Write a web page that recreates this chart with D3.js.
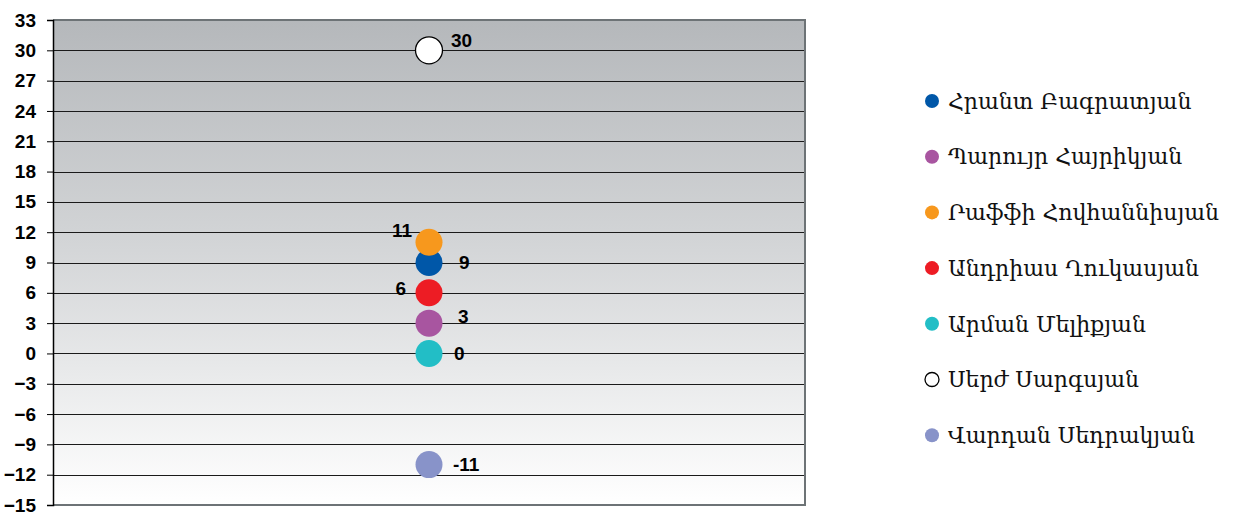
<!DOCTYPE html>
<html>
<head>
<meta charset="utf-8">
<script src="https://cdn.jsdelivr.net/npm/d3@7"></script>
<style>
  body { margin: 0; background: #fff; }
  svg { display: block; }
</style>
</head>
<body>
<div id="chart"></div>
<script>
// candidates, in legend order
const names = [
  "Հրանտ Բագրատյան",
  "Պարույր Հայրիկյան",
  "Րաֆֆի Հովհաննիսյան",
  "Անդրիաս Ղուկասյան",
  "Արման Մելիքյան",
  "Սերժ Սարգսյան",
  "Վարդան Սեդրակյան"
];
const values = [9, 3, 11, 6, 0, 30, -11];
const colors = ["#0057a8", "#a855a0", "#f7981d", "#ed1c24", "#22bec6", "#ffffff", "#8893c9"];
const yTicks = d3.range(-15, 34, 3);

const width = 1234, height = 512;
const plot = { left: 53, right: 805, top: 20, bottom: 505 };
// label placement next to each dot (dx from dot centre, dy of text middle)
const labelPos = [[30, 0], [29, -7], [-17, -12], [-23, -4], [25, 0], [22, -10], [24, 0]];

const svg = d3.select("#chart").append("svg")
  .attr("width", width)
  .attr("height", height);

const y = d3.scaleLinear().domain([-15, 33]).range([plot.bottom, plot.top]);
const x = d3.scalePoint().domain(["all"]).range([plot.left, plot.right]).padding(0.5);

const defs = svg.append("defs");
const grad = defs.append("linearGradient")
  .attr("id", "bg").attr("x1", 0).attr("y1", 0).attr("x2", 0).attr("y2", 1);
grad.append("stop").attr("offset", "0%").attr("stop-color", "#b5b8bb");
grad.append("stop").attr("offset", "45%").attr("stop-color", "#d2d4d6");
grad.append("stop").attr("offset", "100%").attr("stop-color", "#ffffff");

svg.append("rect")
  .attr("x", plot.left).attr("y", plot.top)
  .attr("width", plot.right - plot.left).attr("height", plot.bottom - plot.top)
  .attr("fill", "url(#bg)");

// gridlines
svg.append("g")
  .selectAll("line")
  .data(yTicks.filter(d => d > -15 && d < 33))
  .enter().append("line")
  .attr("x1", plot.left).attr("x2", plot.right)
  .attr("y1", d => Math.round(y(d)) + 0.5).attr("y2", d => Math.round(y(d)) + 0.5)
  .attr("stroke", "#1a1a1a").attr("stroke-width", 1.2);

// frame (top, right, bottom)
svg.append("path")
  .attr("d", `M${plot.left},${plot.top}H${plot.right}V${plot.bottom}H${plot.left}`)
  .attr("fill", "none").attr("stroke", "#6d7376").attr("stroke-width", 2);

// y axis
const yAxis = svg.append("g")
  .attr("transform", `translate(${plot.left},0)`)
  .call(d3.axisLeft(y).tickValues(yTicks).tickSize(6).tickPadding(11));
yAxis.select(".domain").attr("stroke", "#000").attr("stroke-width", 1.5);
yAxis.selectAll(".tick line").attr("stroke", "#000");
yAxis.selectAll("text")
  .attr("fill", "#000")
  .attr("font-family", "Liberation Sans, Arial, sans-serif")
  .attr("font-weight", "bold")
  .attr("font-size", 19);

// points
const pts = svg.append("g");
values.forEach((v, i) => {
  pts.append("circle")
    .attr("cx", x("all")).attr("cy", y(v)).attr("r", 13.5)
    .attr("fill", colors[i])
    .attr("stroke", colors[i] === "#ffffff" ? "#000" : "none")
    .attr("stroke-width", 1.3);
});

// value labels
values.forEach((v, i) => {
  const [dx, dy] = labelPos[i];
  pts.append("text")
    .attr("x", x("all") + dx)
    .attr("y", y(v) + dy)
    .attr("dy", "0.35em")
    .attr("text-anchor", dx > 0 ? "start" : "end")
    .attr("font-family", "Liberation Sans, Arial, sans-serif")
    .attr("font-weight", "bold")
    .attr("font-size", 19)
    .attr("fill", "#000")
    .text(v);
});

// legend
const legend = svg.append("g").attr("transform", "translate(932,101)");
const item = legend.selectAll("g")
  .data(names)
  .enter().append("g")
  .attr("transform", (d, i) => `translate(0,${i * 55.7})`);
item.append("circle")
  .attr("r", 7)
  .attr("fill", (d, i) => colors[i])
  .attr("stroke", (d, i) => colors[i] === "#ffffff" ? "#000" : "none")
  .attr("stroke-width", 1.3);
item.append("text")
  .attr("x", 16).attr("dy", "0.35em")
  .attr("font-family", "DejaVu Serif, serif")
  .attr("font-size", 22)
  .attr("fill", "#111")
  .text(d => d);
</script>
</body>
</html>
